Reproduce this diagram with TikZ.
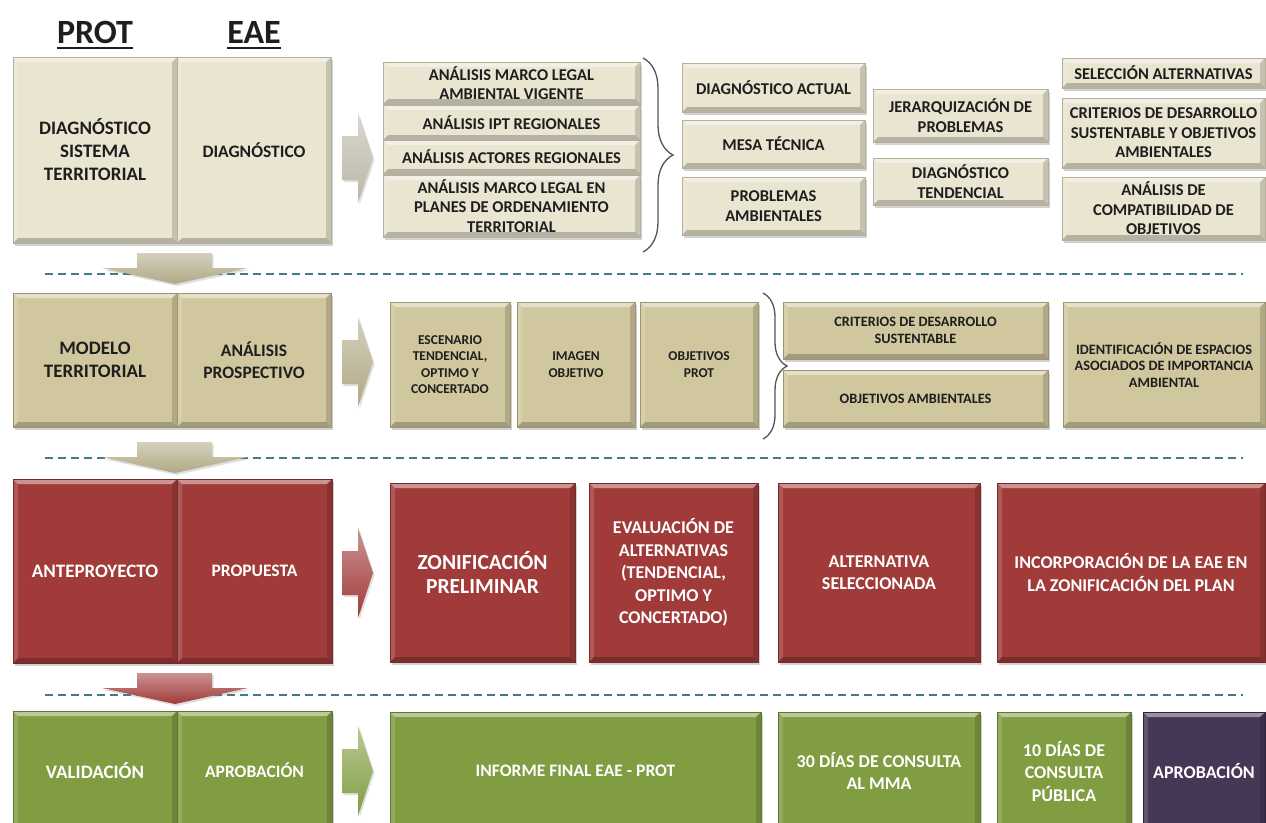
\documentclass[tikz,border=0pt]{standalone}
\usepackage{fontspec}
\setmainfont{Carlito}
\usetikzlibrary{shadows,decorations.pathreplacing,calc}
\definecolor{cA}{HTML}{E9E5D1}\definecolor{cAd}{HTML}{B5B097}
\definecolor{cB}{HTML}{D0C79E}\definecolor{cBd}{HTML}{9E9570}
\definecolor{cC}{HTML}{A03B3A}\definecolor{cCd}{HTML}{782A2A}
\definecolor{cD}{HTML}{809D42}\definecolor{cDd}{HTML}{5E7630}
\definecolor{cE}{HTML}{463757}\definecolor{cEd}{HTML}{2F243C}
\definecolor{txt}{HTML}{1E1E1E}
\definecolor{dashc}{HTML}{44788A}
\definecolor{bracec}{HTML}{555555}
\tikzset{
  bevel/.style={path picture={
    \fill[white,opacity=0.45] (path picture bounding box.north west) -- (path picture bounding box.north east) -- ([shift={(-5pt,-5pt)}]path picture bounding box.north east) -- ([shift={(5pt,-5pt)}]path picture bounding box.north west) -- cycle;
    \fill[white,opacity=0.15] (path picture bounding box.north west) -- ([shift={(5pt,-5pt)}]path picture bounding box.north west) -- ([shift={(5pt,5pt)}]path picture bounding box.south west) -- (path picture bounding box.south west) -- cycle;
    \fill[black,opacity=0.15] (path picture bounding box.north east) -- ([shift={(-5pt,-5pt)}]path picture bounding box.north east) -- ([shift={(-5pt,5pt)}]path picture bounding box.south east) -- (path picture bounding box.south east) -- cycle;
    \fill[black,opacity=0.22] (path picture bounding box.south west) -- (path picture bounding box.south east) -- ([shift={(-5pt,5pt)}]path picture bounding box.south east) -- ([shift={(5pt,5pt)}]path picture bounding box.south west) -- cycle;
  }},
  bx/.style={inner sep=0pt, outer sep=0pt, align=center, line width=0.6pt,
    drop shadow={shadow xshift=2pt,shadow yshift=-3pt,opacity=0.35}, bevel},
  rA/.style={bx, fill=cA, draw=cAd, text=txt},
  rB/.style={bx, fill=cB, draw=cBd, text=txt},
  rC/.style={bx, fill=cC, draw=cCd, text=white},
  rD/.style={bx, fill=cD, draw=cDd, text=white},
  rE/.style={bx, fill=cE, draw=cEd, text=white},
  fa/.style={font=\bfseries\fontsize{19}{23}\selectfont},
  fb/.style={font=\bfseries\fontsize{17.5}{22}\selectfont},
  fc/.style={font=\bfseries\fontsize{16.5}{19.5}\selectfont},
  fd/.style={font=\bfseries\fontsize{13.5}{16.5}\selectfont},
  fg/.style={font=\bfseries\fontsize{14.3}{16.5}\selectfont},
  fe/.style={font=\bfseries\fontsize{18}{22.5}\selectfont},
  ff/.style={font=\bfseries\fontsize{21.5}{24}\selectfont},
  hdr/.style={inner sep=0pt, font=\bfseries\fontsize{34}{38}\selectfont, text=txt},
  sep/.style={dashc, line width=1.4pt, dash pattern=on 8pt off 5pt},
  brc/.style={bracec, line width=1.3pt, decorate},
}
\newcommand\mybox[7]{%
  \pgfmathsetmacro\mybw{#4-#2}\pgfmathsetmacro\mybh{#5-#3}%
  \node[#6, anchor=north west, minimum width=\mybw pt, minimum height=\mybh pt] (#1) at (#2,#3) {#7};}
\newcommand\rightblock[3]{%
  \shade[top color=#3!55!white, bottom color=#3, drop shadow={shadow xshift=1.5pt,shadow yshift=-2pt,opacity=0.25}]
    (#1,#2-22) -- (#1+16,#2-22) -- (#1+16,#2-45) -- (#1+31,#2) -- (#1+16,#2+45) -- (#1+16,#2+22) -- (#1,#2+22) -- cycle;}
\newcommand\downblock[2]{%
  \shade[top color=#2!55!white, bottom color=#2, drop shadow={shadow xshift=1.5pt,shadow yshift=-2pt,opacity=0.25}]
    (137,#1) -- (212,#1) -- (212,#1+15) -- (248,#1+15) -- (175,#1+31) -- (102,#1+15) -- (137,#1+15) -- cycle;}
\begin{document}
\begin{tikzpicture}[x=1pt,y=-1pt]
\useasboundingbox (0,0) rectangle (1266,822);
\fill[white] (0,0) rectangle (1266,822);
% headers
\node[hdr, anchor=base] (hprot) at (95,43) {PROT};
\node[hdr, anchor=base] (heae) at (254,43) {EAE};
\draw[txt, line width=2.6pt] ([yshift=-5pt]hprot.base west) -- ([yshift=-5pt]hprot.base east);
\draw[txt, line width=2.6pt] ([yshift=-5pt]heae.base west) -- ([yshift=-5pt]heae.base east);
% separators
\coordinate (s1a) at (45,274); \coordinate (s1b) at (1243,274);
\coordinate (s2a) at (45,458); \coordinate (s2b) at (1243,458);
\coordinate (s3a) at (45,695); \coordinate (s3b) at (1243,695);
\draw[sep] (s1a) -- (s1b);
\draw[sep] (s2a) -- (s2b);
\draw[sep] (s3a) -- (s3b);
% ---- row 1
\mybox{p1}{13}{57}{177}{243}{rA,fa}{DIAGNÓSTICO\\SISTEMA\\TERRITORIAL}
\mybox{e1}{177}{57}{331}{243}{rA,fb}{DIAGNÓSTICO}
\rightblock{342}{158}{cA!80!black}
\mybox{a1}{383}{62}{640}{104}{rA,fc}{ANÁLISIS MARCO LEGAL\\AMBIENTAL VIGENTE}
\mybox{a2}{383}{105}{640}{140}{rA,fc}{ANÁLISIS IPT REGIONALES}
\mybox{a3}{383}{140}{640}{174}{rA,fc}{ANÁLISIS ACTORES REGIONALES}
\mybox{a4}{383}{175}{640}{237}{rA,fc}{ANÁLISIS MARCO LEGAL EN\\PLANES DE ORDENAMIENTO\\TERRITORIAL}
\draw[brc, decoration={brace, amplitude=30pt}] (643,58) -- (643,252);
\mybox{c1}{682}{63}{865}{112}{rA,fc}{DIAGNÓSTICO ACTUAL}
\mybox{c2}{682}{120}{865}{168}{rA,fc}{MESA TÉCNICA}
\mybox{c3}{682}{177}{865}{235}{rA,fc}{PROBLEMAS\\AMBIENTALES}
\mybox{d1}{873}{89}{1048}{142}{rA,fc}{JERARQUIZACIÓN DE\\PROBLEMAS}
\mybox{d2}{873}{158}{1048}{205}{rA,fc}{DIAGNÓSTICO\\TENDENCIAL}
\mybox{f1}{1062}{58}{1265}{88}{rA,fc}{SELECCIÓN ALTERNATIVAS}
\mybox{f2}{1062}{98}{1265}{168}{rA,fc}{CRITERIOS DE DESARROLLO\\SUSTENTABLE Y OBJETIVOS\\AMBIENTALES}
\mybox{f3}{1062}{177}{1265}{240}{rA,fc}{ANÁLISIS DE\\COMPATIBILIDAD DE\\OBJETIVOS}
\downblock{253}{cB!85!black}
% ---- row 2
\mybox{p2}{13}{293}{177}{427}{rB,fa}{MODELO\\TERRITORIAL}
\mybox{e2}{177}{293}{331}{427}{rB,fb}{ANÁLISIS\\PROSPECTIVO}
\rightblock{342}{362}{cB!85!black}
\mybox{g1}{390}{302}{510}{427}{rB,fd}{ESCENARIO\\TENDENCIAL,\\OPTIMO Y\\CONCERTADO}
\mybox{g2}{517}{302}{635}{427}{rB,fd}{IMAGEN\\OBJETIVO}
\mybox{g3}{640}{302}{758}{427}{rB,fd}{OBJETIVOS\\PROT}
\draw[brc, decoration={brace, amplitude=24pt}] (763,293) -- (763,439);
\mybox{h1}{783}{302}{1048}{359}{rB,fg}{CRITERIOS DE DESARROLLO\\SUSTENTABLE}
\mybox{h2}{783}{370}{1048}{427}{rB,fg}{OBJETIVOS AMBIENTALES}
\mybox{h3}{1063}{302}{1265}{427}{rB,fg}{IDENTIFICACIÓN DE ESPACIOS\\ASOCIADOS DE IMPORTANCIA\\AMBIENTAL}
\downblock{442}{cB!85!black}
% ---- row 3
\mybox{p3}{13}{479}{177}{663}{rC,fa}{ANTEPROYECTO}
\mybox{e3}{177}{479}{332}{663}{rC,fb}{PROPUESTA}
\rightblock{342}{573}{cC}
\mybox{i1}{390}{483}{575}{662}{rC,ff}{ZONIFICACIÓN\\PRELIMINAR}
\mybox{i2}{589}{483}{758}{662}{rC,fe}{EVALUACIÓN DE\\ALTERNATIVAS\\(TENDENCIAL,\\OPTIMO Y\\CONCERTADO)}
\mybox{i3}{778}{483}{980}{662}{rC,fe}{ALTERNATIVA\\SELECCIONADA}
\mybox{i4}{997}{483}{1265}{662}{rC,fe}{INCORPORACIÓN DE LA EAE EN\\LA ZONIFICACIÓN DEL PLAN}
\downblock{673}{cC}
% ---- row 4
\mybox{p4}{13}{711}{177}{830}{rD,fa}{VALIDACIÓN}
\mybox{e4}{177}{711}{332}{830}{rD,fb}{APROBACIÓN}
\rightblock{342}{771}{cD}
\mybox{j1}{390}{712}{761}{830}{rD,fb}{INFORME FINAL EAE - PROT}
\mybox{j2}{778}{712}{980}{830}{rD,fe}{30 DÍAS DE CONSULTA\\AL MMA}
\mybox{j3}{997}{712}{1131}{830}{rD,fe}{10 DÍAS DE\\CONSULTA\\PÚBLICA}
\mybox{j4}{1143}{712}{1265}{830}{rE,fe}{APROBACIÓN}
\end{tikzpicture}
\end{document}
